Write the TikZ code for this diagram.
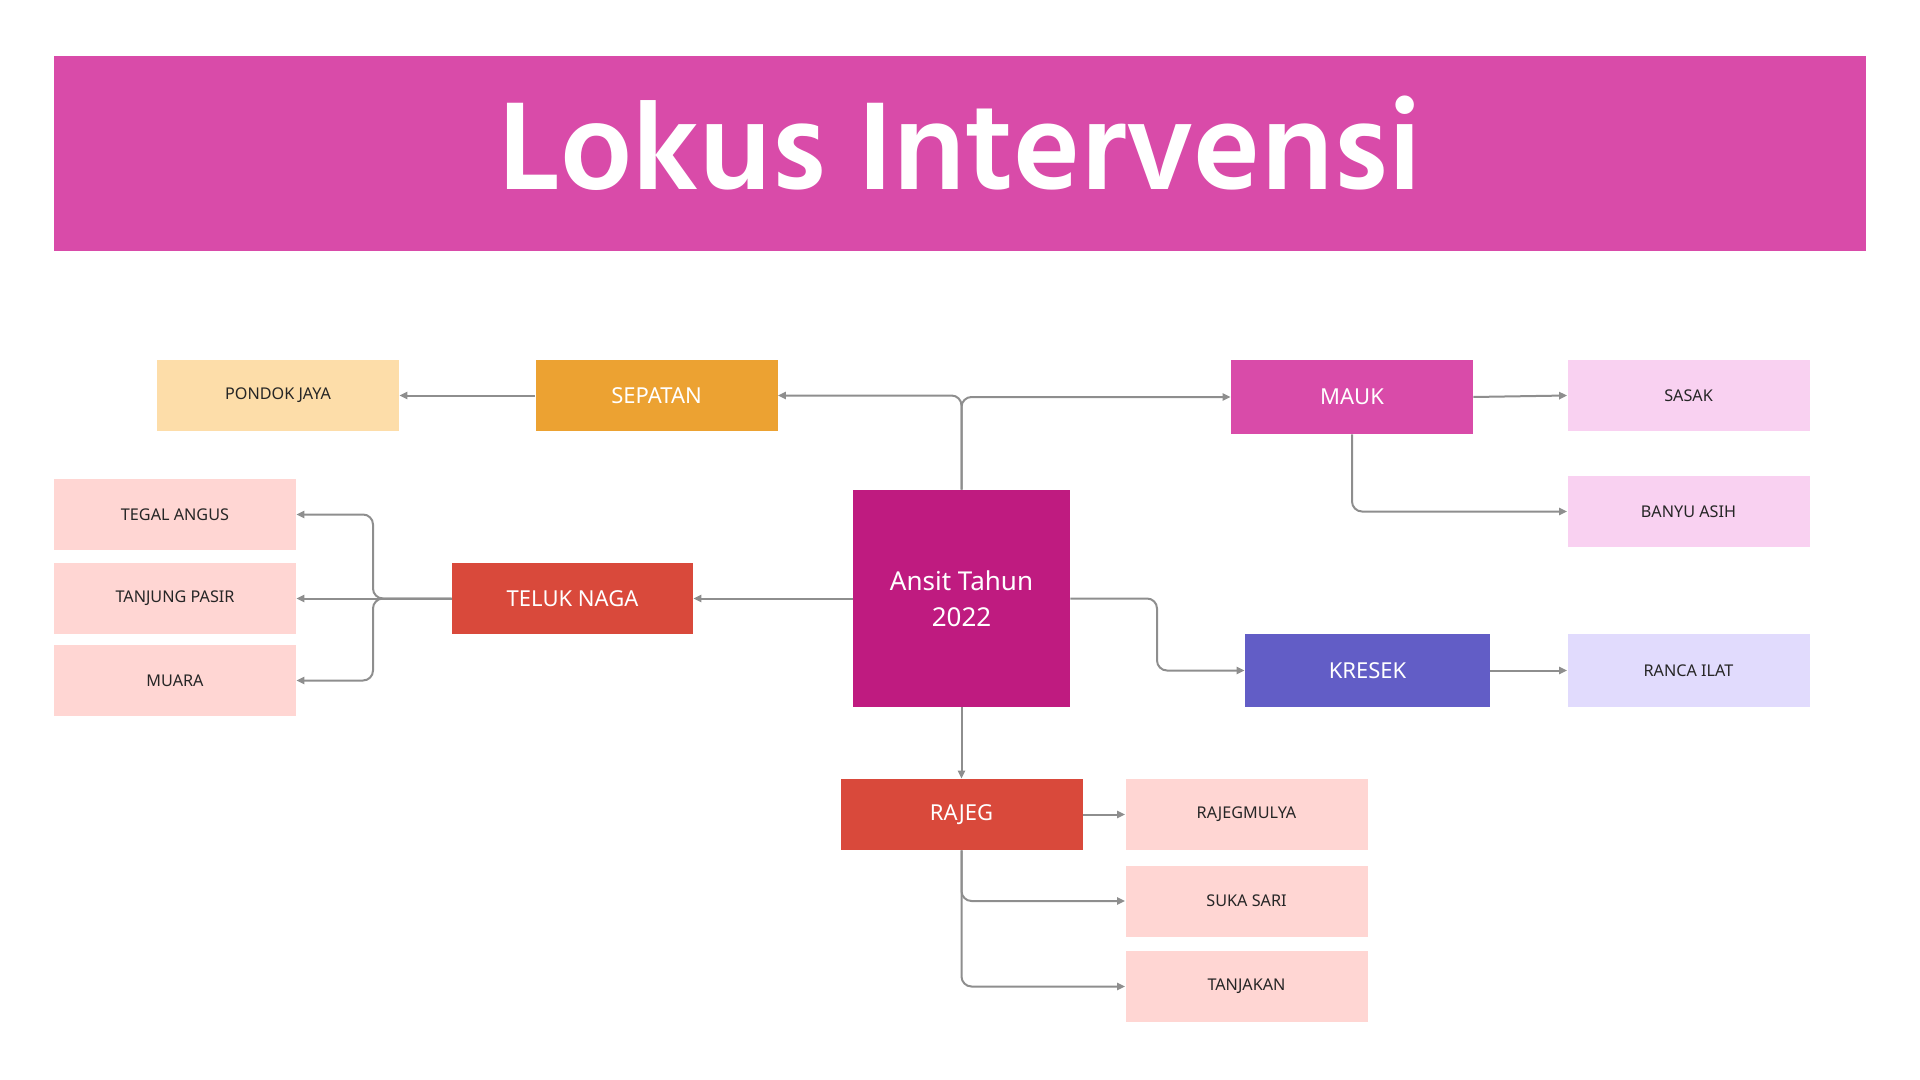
\documentclass[tikz,border=0pt]{standalone}
\usepackage{fontspec}
\setmainfont{Noto Sans}
\newfontfamily\titlefont{Hind Siliguri}
\usetikzlibrary{arrows.meta,positioning}

\definecolor{bannerpink}{HTML}{D94BA9}
\definecolor{rootmag}{HTML}{BF1B80}
\definecolor{sepatanorange}{HTML}{ECA232}
\definecolor{tomato}{HTML}{D9493B}
\definecolor{kresekblue}{HTML}{625DC6}
\definecolor{pondoksand}{HTML}{FDDDA9}
\definecolor{leafpink}{HTML}{FFD6D3}
\definecolor{maukleaf}{HTML}{F9D1F1}
\definecolor{rancalilac}{HTML}{E1DBFD}
\definecolor{linkgray}{HTML}{8E8E8E}

\begin{document}
\begin{tikzpicture}[x=0.5pt, y=-0.5pt,
  box/.style = {shape = rectangle, inner sep = 0pt, minimum width = 121pt, minimum height = 35.5pt},
  mid/.style = {box, text = white, font = \fontsize{11}{13}\selectfont},
  leaf/.style = {box, text = black!85, font = \fontsize{8.1}{9.5}\selectfont},
  link/.style = {draw = linkgray, line width = 1pt, rounded corners = 5pt, -{Triangle[length=4pt, width=3.6pt]}}]
\useasboundingbox (0,0) rectangle (1920,1080);
\fill[bannerpink] (54,56) rectangle (1866,251);
\node[anchor = base, text = white, font = \titlefont\bfseries\fontsize{64}{68}\selectfont] (title) at (960,190) {Lokus Intervensi};

% root
\node[box, fill = rootmag, minimum width = 108.5pt, minimum height = 108.5pt, text = white, align = center, font = \fontsize{13}{18}\selectfont] (ansit) at (961.5,598.5) {Ansit Tahun\\2022};

% kecamatan
\node[mid, fill = sepatanorange] (sepatan) at (656.5,395.5) {SEPATAN};
\node[mid, fill = bannerpink, minimum height = 37pt] (mauk) at (1352,397) {MAUK};
\node[mid, fill = tomato, minimum width = 120.5pt] (teluk) at (572.5,598.5) {TELUK NAGA};
\node[mid, fill = kresekblue, minimum width = 122.5pt, minimum height = 36.5pt] (kresek) at (1367.5,670.5) {KRESEK};
\node[mid, fill = tomato] (rajeg) at (961.5,814.5) {RAJEG};

% desa
\node[leaf, fill = pondoksand] (pondok) at (278,395.5) {PONDOK JAYA};
\node[leaf, fill = maukleaf] (sasak) at (1688.5,395.5) {SASAK};
\node[leaf, fill = maukleaf] (banyu) at (1688.5,511.5) {BANYU ASIH};
\node[leaf, fill = leafpink] (tegal) at (175,514.5) {TEGAL ANGUS};
\node[leaf, fill = leafpink] (tanjung) at (175,598.5) {TANJUNG PASIR};
\node[leaf, fill = leafpink] (muara) at (175,680.5) {MUARA};
\node[leaf, fill = rancalilac, minimum height = 36.5pt] (ranca) at (1688.5,670.5) {RANCA ILAT};
\node[leaf, fill = leafpink] (rajegmulya) at (1246.5,814.5) {RAJEGMULYA};
\node[leaf, fill = leafpink] (sukasari) at (1246.5,901) {SUKA SARI};
\node[leaf, fill = leafpink] (tanjakan) at (1246.5,986.5) {TANJAKAN};

\coordinate (tsplit) at (373,598.5);
\coordinate (kbend) at (1157,598.5);

\draw[link] (ansit.north) |- (sepatan.east);
\draw[link] (ansit.north) |- (mauk.west);
\draw[link] (ansit.west) -- (teluk.east);
\draw[link] (ansit.east) -- (kbend) |- (kresek.west);
\draw[link] (ansit.south) -- (rajeg.north);

\draw[link] (sepatan.west) -- (pondok.east);
\draw[link] (mauk.east) -- (sasak.west);
\draw[link] (mauk.south) |- (banyu.west);
\draw[link] (teluk.west) -- (tsplit) |- (tegal.east);
\draw[link] (teluk.west) -- (tanjung.east);
\draw[link] (teluk.west) -- (tsplit) |- (muara.east);
\draw[link] (kresek.east) -- (ranca.west);
\draw[link] (rajeg.east) -- (rajegmulya.west);
\draw[link] (rajeg.south) |- (sukasari.west);
\draw[link] (rajeg.south) |- (tanjakan.west);
\end{tikzpicture}
\end{document}
